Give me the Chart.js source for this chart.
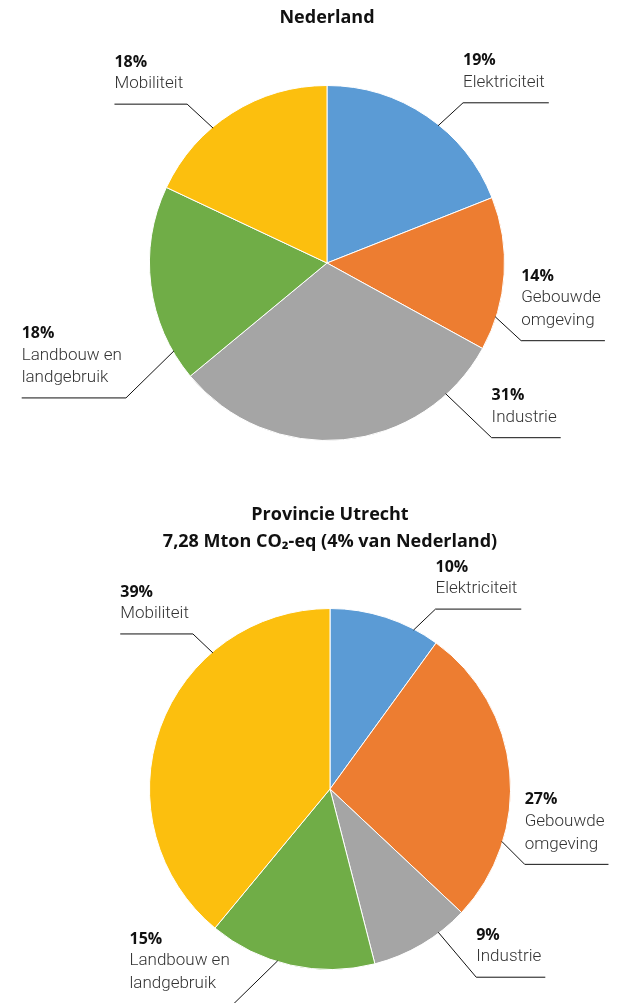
<!DOCTYPE html>
<html>
<head>
<meta charset="utf-8">
<script src="https://cdn.jsdelivr.net/npm/chart.js@4.4.1/dist/chart.umd.min.js"></script>
<style>
  body { margin: 0; background: #fff; }
  #wrap { position: relative; width: 619px; height: 1003px; overflow: hidden; }
  canvas { position: absolute; left: 0; }
</style>
</head>
<body>
<div id="wrap">
  <canvas id="nlChart" width="619" height="500" style="top:0"></canvas>
  <canvas id="utChart" width="619" height="503" style="top:500px"></canvas>
</div>
<script>
// categories (multi-line labels as arrays)
const categories = ['Elektriciteit', ['Gebouwde', 'omgeving'], 'Industrie', ['Landbouw en', 'landgebruik'], 'Mobiliteit'];
// share of emissions in %
const nederlandValues = [19, 14, 31, 18, 18];
const utrechtValues = [10, 27, 9, 15, 39];
const sliceColors = ['#5B9BD5', '#ED7D31', '#A5A5A5', '#70AD47', '#FCBF0E'];

const titleFont = '700 18px "Open Sans", sans-serif';
const pctFont = '700 16px "Open Sans", sans-serif';
const labelFont = '300 17px Roboto, sans-serif';

// leader line placement per slice: pos = fraction along slice arc, dx/dy = diagonal
const nlLeaders = [
  { pos: 0.57, dx: 25, dy: -23 },
  { pos: 0.78, dx: 26, dy: 24 },
  { pos: 0.17, dx: 46, dy: 44 },
  { pos: 0.15, dx: -48, dy: 47 },
  { pos: 0.38, dx: -26, dy: -24 }
];
const utLeaders = [
  { pos: 0.77, dx: 22, dy: -21 },
  { pos: 0.73, dx: 23, dy: 23 },
  { pos: 0.30, dx: 38, dy: 45 },
  { pos: 0.58, dx: -44, dy: 43 },
  { pos: 0.71, dx: -20, dy: -19 }
];

// draws title lines + percentage labels with leader lines
const leaderPlugin = {
  id: 'leaders',
  afterDatasetsDraw(chart, args, opts) {
    const ctx = chart.ctx;
    const meta = chart.getDatasetMeta(0);
    const labels = chart.data.labels;
    const values = chart.data.datasets[0].data;
    ctx.save();

    // titles
    ctx.fillStyle = '#111';
    ctx.font = titleFont;
    ctx.textAlign = 'center';
    ctx.textBaseline = 'middle';
    const cx = meta.data[0].x;
    opts.title.forEach((t, k) => ctx.fillText(t, cx, opts.titleY + k * 27));

    meta.data.forEach((arc, i) => {
      const L = opts.layout[i];
      const a = arc.startAngle + (arc.endAngle - arc.startAngle) * L.pos;
      const r = arc.outerRadius - 1;
      const x0 = arc.x + Math.cos(a) * r;
      const y0 = arc.y + Math.sin(a) * r;
      const x1 = x0 + L.dx;
      const y1 = y0 + L.dy;
      const lines = Array.isArray(labels[i]) ? labels[i] : [labels[i]];
      ctx.font = labelFont;
      const w = Math.max(...lines.map(s => ctx.measureText(s).width)) + 4;
      const right = L.dx > 0;
      const x2 = right ? x1 + w : x1 - w;

      ctx.strokeStyle = '#111';
      ctx.lineWidth = 1;
      ctx.beginPath();
      ctx.moveTo(x0, y0);
      ctx.lineTo(x1, y1);
      ctx.lineTo(x2, y1);
      ctx.stroke();

      const tx = right ? x1 : x2;
      ctx.textAlign = 'left';
      ctx.textBaseline = 'middle';
      ctx.fillStyle = '#333';
      let y = y1 - 20;
      for (let k = lines.length - 1; k >= 0; k--) {
        ctx.fillText(lines[k], tx, y);
        if (k > 0) y -= 22.5;
      }
      ctx.font = pctFont;
      ctx.fillStyle = '#111';
      ctx.fillText(values[i] + '%', tx, y - 22);
    });
    ctx.restore();
  }
};

function makePie(id, values, padding, title, titleY, layout) {
  const ctx = document.getElementById(id).getContext('2d');
  return new Chart(ctx, {
    type: 'pie',
    data: {
      labels: categories,
      datasets: [{
        data: values,
        backgroundColor: sliceColors,
        borderColor: '#fff',
        borderWidth: 1,
        hoverOffset: 0,
        offset: 0
      }]
    },
    options: {
      responsive: false,
      animation: false,
      layout: { padding: padding },
      plugins: {
        legend: { display: false },
        tooltip: { enabled: false },
        leaders: { title: title, titleY: titleY, layout: layout }
      }
    },
    plugins: [leaderPlugin]
  });
}

makePie('nlChart', nederlandValues, { left: 149, right: 114, top: 85, bottom: 59 },
  ['Nederland'], 18, nlLeaders);
makePie('utChart', utrechtValues, { left: 149, right: 108, top: 108, bottom: 33 },
  ['Provincie Utrecht', '7,28 Mton CO\u2082-eq (4% van Nederland)'], 15, utLeaders);
</script>
</body>
</html>
